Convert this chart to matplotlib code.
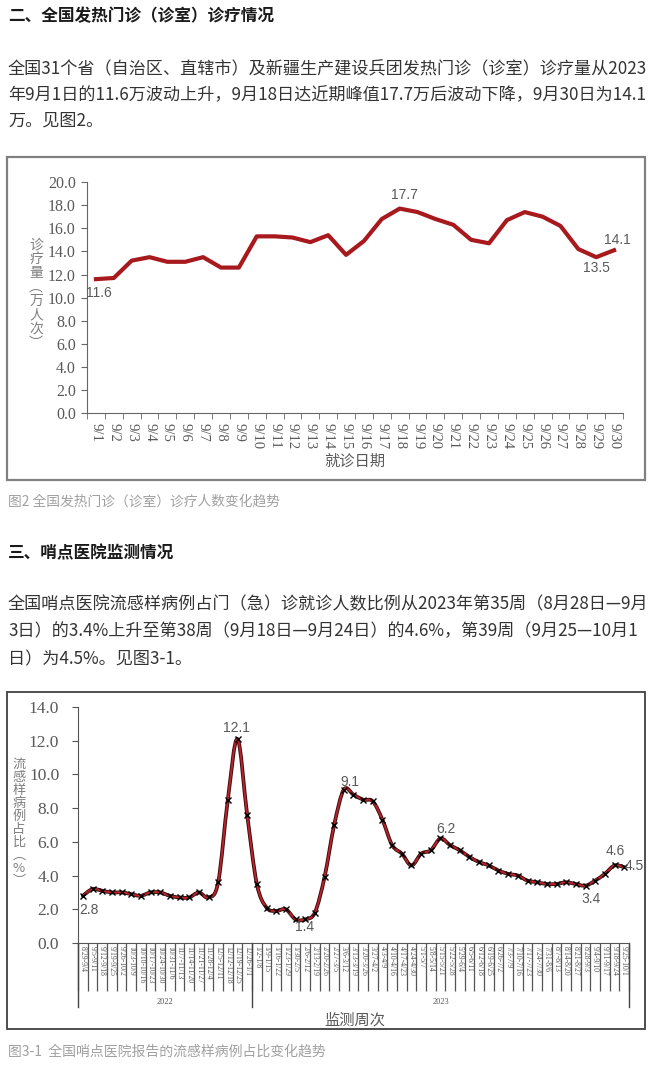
import matplotlib
matplotlib.use('Agg')
import matplotlib.pyplot as plt
from matplotlib.patches import Rectangle, PathPatch
from matplotlib.path import Path
import matplotlib.patheffects as pe
import numpy as np

plt.rcParams['font.family'] = ['Noto Sans CJK SC', 'DejaVu Sans']

# 图2 数据：每日发热门诊诊疗量（万人次）
days = ['9/%d' % d for d in range(1, 31)]
visits = [11.6, 11.7, 13.2, 13.5, 13.1, 13.1, 13.5, 12.6, 12.6, 15.3,
          15.3, 15.2, 14.8, 15.4, 13.7, 14.9, 16.8, 17.7, 17.4, 16.8,
          16.3, 15.0, 14.7, 16.7, 17.4, 17.0, 16.2, 14.2, 13.5, 14.1]

# 图3-1 数据：流感样病例占比（%）
weeks_2022 = ['8/29-9/4', '9/5-9/11', '9/12-9/18', '9/19-9/25', '9/26-10/2',
              '10/3-10/9', '10/10-10/16', '10/17-10/23', '10/24-10/30',
              '10/31-11/6', '11/7-11/13', '11/14-11/20', '11/21-11/27',
              '11/28-12/4', '12/5-12/11', '12/12-12/18', '12/19-12/25',
              '12/26-1/1']
weeks_2023 = ['1/2-1/8', '1/9-1/15', '1/16-1/22', '1/23-1/29', '1/30-2/5',
              '2/6-2/12', '2/13-2/19', '2/20-2/26', '2/27-3/5', '3/6-3/12',
              '3/13-3/19', '3/20-3/26', '3/27-4/2', '4/3-4/9', '4/10-4/16',
              '4/17-4/23', '4/24-4/30', '5/1-5/7', '5/8-5/14', '5/15-5/21',
              '5/22-5/28', '5/29-6/4', '6/5-6/11', '6/12-6/18', '6/19-6/25',
              '6/26-7/2', '7/3-7/9', '7/10-7/16', '7/17-7/23', '7/24-7/30',
              '7/31-8/6', '8/7-8/13', '8/14-8/20', '8/21-8/27', '8/28-9/3',
              '9/4-9/10', '9/11-9/17', '9/18-9/24', '9/25-10/1']
ili = [2.8, 3.2, 3.1, 3.0, 3.0, 2.9, 2.8, 3.0, 3.0, 2.8,
       2.7, 2.7, 3.0, 2.7, 3.6, 8.5, 12.1, 7.6, 3.5, 2.1,
       1.9, 2.0, 1.4, 1.4, 1.8, 3.9, 7.0, 9.1, 8.8, 8.5,
       8.4, 7.3, 5.8, 5.3, 4.6, 5.3, 5.5, 6.2, 5.8, 5.5,
       5.1, 4.8, 4.6, 4.3, 4.1, 4.0, 3.7, 3.6, 3.5, 3.5,
       3.6, 3.5, 3.4, 3.7, 4.1, 4.6, 4.5]
weeks = weeks_2022 + weeks_2023

W, H = 660, 1073
fig = plt.figure(figsize=(W / 100, H / 100), dpi=100)


def fx(x):
    return x / W


def fy(y):
    return 1 - y / H


txt = '#333333'
gray = '#595959'
serif = ['Liberation Serif', 'Noto Sans CJK SC']

# ---- 页面文字 ----
fig.text(fx(8), fy(16), '二、全国发热门诊（诊室）诊疗情况', fontsize=12, weight='bold',
         color='#1a1a1a', va='center')
p1 = ['全国31个省（自治区、直辖市）及新疆生产建设兵团发热门诊（诊室）诊疗量从2023',
      '年9月1日的11.6万波动上升，9月18日达近期峰值17.7万后波动下降，9月30日为14.1',
      '万。见图2。']
for i, line in enumerate(p1):
    fig.text(fx(8), fy(69 + i * 26), line, fontsize=12.3, color=txt, va='center')
fig.text(fx(8), fy(502), '图2 全国发热门诊（诊室）诊疗人数变化趋势', fontsize=9.9,
         color='#a0a0a0', va='center')
fig.text(fx(8), fy(553), '三、哨点医院监测情况', fontsize=12, weight='bold',
         color='#1a1a1a', va='center')
p2 = ['全国哨点医院流感样病例占门（急）诊就诊人数比例从2023年第35周（8月28日—9月',
      '3日）的3.4%上升至第38周（9月18日—9月24日）的4.6%，第39周（9月25—10月1',
      '日）为4.5%。见图3-1。']
for i, line in enumerate(p2):
    fig.text(fx(8), fy(604 + i * 27.5), line, fontsize=12.3, color=txt, va='center')
fig.text(fx(8), fy(1052), '图3-1  全国哨点医院报告的流感样病例占比变化趋势', fontsize=10,
         color='#a0a0a0', va='center')

# 图框
fig.patches.append(Rectangle((fx(7), fy(480)), fx(638), 323 / H, transform=fig.transFigure,
                             fill=False, edgecolor='#808080', linewidth=1.6))
fig.patches.append(Rectangle((fx(7), fy(1029)), fx(638), 337 / H, transform=fig.transFigure,
                             fill=False, edgecolor='#404040', linewidth=1.3))

lab = dict(fontsize=10, color=gray, family=['Liberation Sans', 'DejaVu Sans'],
           textcoords='offset points', ha='center', va='center')

# ---- 图2 ----
ax1 = fig.add_axes([fx(87), fy(413.3), fx(536), 231.3 / H])
x1 = np.arange(len(days))
ax1.plot(x1, visits, color='#a8191e', linewidth=3, solid_joinstyle='round')
ax1.set_xlim(-0.5, len(days) - 0.5)
ax1.set_ylim(0, 20)
ax1.set_yticks(np.arange(0, 20.1, 2))
ax1.set_yticklabels(['%.1f' % v for v in np.arange(0, 20.1, 2)], family=serif,
                    fontsize=11.5, color=gray)
ax1.set_xticks(x1)
ax1.set_xticklabels(days, rotation=270, family=serif, fontsize=10.5, color=gray,
                    va='top', ha='center')
ax1.set_xticks(np.arange(-0.5, len(days)), minor=True)
ax1.tick_params(axis='x', which='major', length=0, pad=7)
ax1.tick_params(axis='x', which='minor', length=4, color='#666666', direction='out')
ax1.tick_params(axis='y', length=4, color='#666666', direction='out', pad=4)
for s in ['top', 'right']:
    ax1.spines[s].set_visible(False)
for s in ['left', 'bottom']:
    ax1.spines[s].set_color('#666666')

ax1.annotate('11.6', (0, visits[0]), xytext=(2.2, -10), **lab)
ax1.annotate('17.7', (17, visits[17]), xytext=(3.6, 9.7), **lab)
ax1.annotate('13.5', (28, visits[28]), xytext=(0.5, -7.5), **lab)
ax1.annotate('14.1', (29, visits[29]), xytext=(2.6, 7.3), **lab)

fig.text(fx(36), fy(294), '\n'.join('诊疗量︵万人次︶'), fontsize=10, color='#7f7f7f',
         ha='center', va='center', linespacing=1.0)
fig.text(fx(355), fy(461), '就诊日期', fontsize=11, color=gray, ha='center', va='center')

# ---- 图3-1 ----
ax2 = fig.add_axes([fx(78), fy(943), fx(551), 236 / H])
x2 = np.arange(len(weeks))
y2 = np.array(ili)

# Excel 风格平滑曲线（贝塞尔，经过每个数据点）
pts = np.column_stack([x2, y2])
verts = [pts[0]]
codes = [Path.MOVETO]
for i in range(len(pts) - 1):
    p0 = pts[max(i - 1, 0)]
    p1_ = pts[i]
    p2_ = pts[i + 1]
    p3 = pts[min(i + 2, len(pts) - 1)]
    verts += [p1_ + (p2_ - p0) / 6, p2_ - (p3 - p1_) / 6, p2_]
    codes += [Path.CURVE4] * 3
curve = PathPatch(Path(verts, codes), facecolor='none', edgecolor='#b8232b',
                  linewidth=1.4, capstyle='round', joinstyle='round')
curve.set_path_effects([pe.Stroke(linewidth=2.7, foreground='#3a0c0c'), pe.Normal()])
ax2.add_patch(curve)
ax2.plot(x2, y2, 'x', color='black', markersize=4, markeredgewidth=1)

ax2.set_xlim(-0.5, len(weeks) - 0.5)
ax2.set_ylim(0, 14)
ax2.set_yticks(np.arange(0, 14.1, 2))
ax2.set_yticklabels(['%.1f' % v for v in np.arange(0, 14.1, 2)], family=serif,
                    fontsize=12.5, color=gray)
ax2.set_xticks(x2)
ax2.set_xticklabels(weeks, rotation=270, family=serif, fontsize=5.5, color='#555555',
                    va='top', ha='center')
ax2.set_xticks(np.arange(-0.5, len(weeks)), minor=True)
ax2.tick_params(axis='x', which='major', length=0, pad=2)
ax2.tick_params(axis='x', which='minor', length=34.5, width=0.9, color='#555555',
                direction='out')
ax2.tick_params(axis='y', length=4.5, color='#555555', direction='out', pad=9)
for s in ['top', 'right']:
    ax2.spines[s].set_visible(False)
for s in ['left', 'bottom']:
    ax2.spines[s].set_color('#555555')

# 年份分组线与标签
tr = ax2.get_xaxis_transform()
for b in [-0.5, len(weeks_2022) - 0.5, len(weeks) - 0.5]:
    ax2.plot([b, b], [0, -0.271], transform=tr, color='#444444', linewidth=1,
             clip_on=False)
ax2.text((len(weeks_2022) - 1) / 2, -0.25, '2022', transform=tr, ha='center',
         va='center', family=serif, fontsize=6, color='#555555')
ax2.text(len(weeks_2022) + (len(weeks_2023) - 1) / 2, -0.25, '2023', transform=tr,
         ha='center', va='center', family=serif, fontsize=6, color='#555555')

ax2.annotate('2.8', (0, ili[0]), xytext=(4.5, -10.2), **lab)
ax2.annotate('12.1', (16, ili[16]), xytext=(-1, 7.9), **lab)
ax2.annotate('1.4', (22, ili[22]), xytext=(6.8, -5.5), **lab)
ax2.annotate('9.1', (27, ili[27]), xytext=(4.5, 5.5), **lab)
ax2.annotate('6.2', (37, ili[37]), xytext=(4, 6.8), **lab)
ax2.annotate('4.6', (55, ili[55]), xytext=(0.4, 10.4), **lab)
ax2.annotate('4.5', (56, ili[56]), xytext=(7, 0.7), **lab)
ax2.annotate('3.4', (52, ili[52]), xytext=(4, -9.6), **lab)

fig.text(fx(19), fy(823), '\n'.join('流感样病例占比︵%︶'), fontsize=9.5, color='#7f7f7f',
         ha='center', va='center', linespacing=1.0)
fig.text(fx(355), fy(1020), '监测周次', fontsize=11, color=gray, ha='center', va='center')

fig.savefig('out.png', dpi=100, facecolor='white')
